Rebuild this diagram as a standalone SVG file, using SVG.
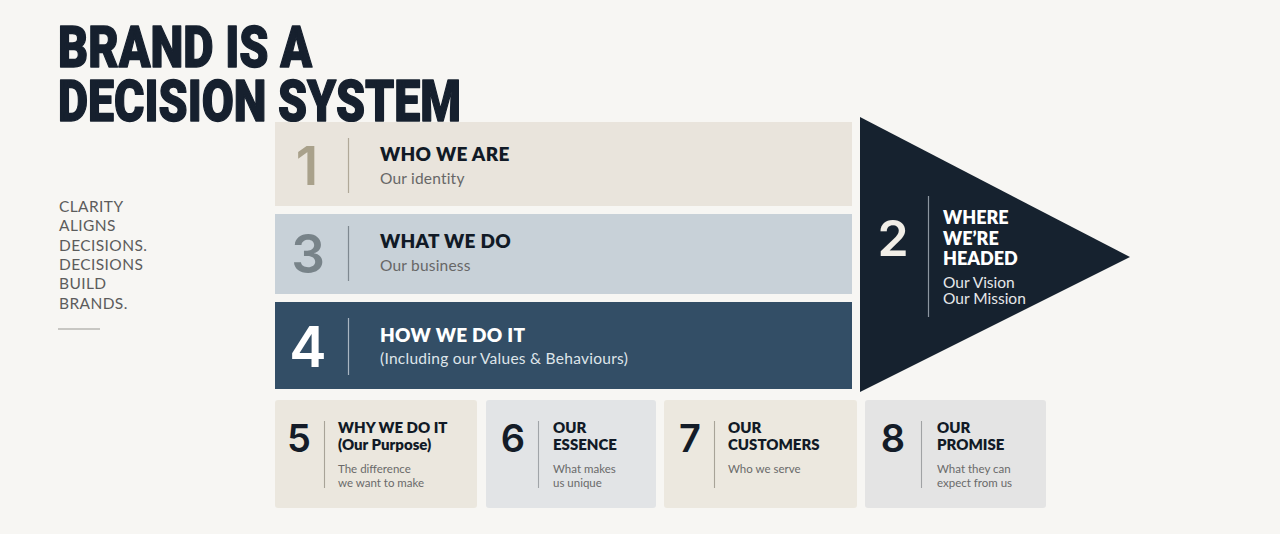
<svg xmlns="http://www.w3.org/2000/svg" width="1280" height="534" viewBox="0 0 1280 534">
<defs>
<style>
.title{font-family:Roboto,"Liberation Sans",sans-serif;font-weight:900;font-size:57px;fill:#16202e;stroke:#16202e;stroke-width:1.4px;stroke-linejoin:round}
.side{font-family:Lato,"Noto Sans",sans-serif;font-weight:400;font-size:15.5px;fill:#5c5c5c;letter-spacing:0.4px}
.num{font-family:Inter,"Noto Sans",sans-serif;font-weight:600}
.h{font-family:Lato,"Noto Sans",sans-serif;font-weight:800;font-size:19px;fill:#111a26;letter-spacing:0.3px}
.th{font-family:Lato,"Noto Sans",sans-serif;font-weight:800;font-size:18px;fill:#ffffff}
.s{font-family:Lato,"Noto Sans",sans-serif;font-size:15.5px;fill:#676767;letter-spacing:0.2px}
.ch{font-family:Lato,"Noto Sans",sans-serif;font-weight:800;font-size:15px;fill:#111a26}
.cs{font-family:Lato,"Noto Sans",sans-serif;font-size:11.5px;fill:#6a6a6a}
.cn{font-family:Inter,"Noto Sans",sans-serif;font-weight:600;font-size:38px;fill:#141c28}
</style>
</defs>
<rect width="1280" height="534" fill="#f7f6f3"/>

<g id="title">
<text class="title" x="58" y="67" textLength="254" lengthAdjust="spacingAndGlyphs">BRAND IS A</text>
<text class="title" x="58" y="121" textLength="403" lengthAdjust="spacingAndGlyphs">DECISION SYSTEM</text>
</g>

<g id="tagline">
<text class="side" x="59" y="212">CLARITY</text>
<text class="side" x="59" y="231">ALIGNS</text>
<text class="side" x="59" y="251">DECISIONS.</text>
<text class="side" x="59" y="270">DECISIONS</text>
<text class="side" x="59" y="289">BUILD</text>
<text class="side" x="59" y="309">BRANDS.</text>
<line x1="58" y1="329" x2="100" y2="329" stroke="#9a9894" stroke-width="1.2"/>
</g>

<g id="connectors"></g>

<g id="node1">
<rect x="275" y="122" width="577" height="84" fill="#e9e4dc"/>
<text class="num" x="307" y="185" font-size="53" fill="#a9a18b" text-anchor="middle">1</text>
<line x1="348.500" y1="138" x2="348.500" y2="193" stroke="#b0a898" stroke-width="1.2"/>
<text class="h" x="380" y="161">WHO WE ARE</text>
<text class="s" x="380" y="184">Our identity</text>
</g>

<g id="node3">
<rect x="275" y="214" width="577" height="80" fill="#c8d1d8"/>
<text class="num" x="308" y="273" font-size="53" fill="#788389" text-anchor="middle">3</text>
<line x1="348.500" y1="226" x2="348.500" y2="281" stroke="#7e8890" stroke-width="1.2"/>
<text class="h" x="380" y="248">WHAT WE DO</text>
<text class="s" x="380" y="271">Our business</text>
</g>

<g id="node4">
<rect x="275" y="302" width="577" height="87" fill="#334e66"/>
<text class="num" x="308" y="367" font-size="56" fill="#ffffff" text-anchor="middle">4</text>
<line x1="348.500" y1="318" x2="348.500" y2="375" stroke="#a9b6c2" stroke-width="1.2"/>
<text class="h" x="380" y="342" style="fill:#ffffff">HOW WE DO IT</text>
<text class="s" x="380" y="364" textLength="248" style="fill:#dfe5ea">(Including our Values &amp; Behaviours)</text>
</g>

<g id="node2">
<polygon points="860,117 1130,257 860,392" fill="#16222f"/>
<text class="num" x="893" y="256" font-size="50" fill="#f1eee7" text-anchor="middle">2</text>
<line x1="928.500" y1="196" x2="928.500" y2="317" stroke="#8c96a0" stroke-width="1.2"/>
<text class="th" x="943" y="224">WHERE</text>
<text class="th" x="943" y="245">WE’RE</text>
<text class="th" x="943" y="265">HEADED</text>
<text class="s" x="943" y="288" font-size="14" style="fill:#e6e8ea;letter-spacing:0">Our Vision</text>
<text class="s" x="943" y="304" font-size="14" style="fill:#e6e8ea;letter-spacing:0">Our Mission</text>
</g>

<g id="node5">
<rect x="275" y="400" width="202" height="108" rx="3" fill="#ebe7de"/>
<text class="cn" x="299" y="452" text-anchor="middle">5</text>
<line x1="324.500" y1="421" x2="324.500" y2="488" stroke="#a8a398" stroke-width="1.1"/>
<text class="ch" x="338" y="433">WHY WE DO IT</text>
<text class="ch" x="338" y="450" font-size="13">(Our Purpose)</text>
<text class="cs" x="338" y="473">The difference</text>
<text class="cs" x="338" y="487">we want to make</text>
</g>

<g id="node6">
<rect x="486" y="400" width="170" height="108" rx="3" fill="#e2e4e6"/>
<text class="cn" x="513" y="452" text-anchor="middle">6</text>
<line x1="538.500" y1="421" x2="538.500" y2="488" stroke="#a0a4a8" stroke-width="1.1"/>
<text class="ch" x="553" y="433">OUR</text>
<text class="ch" x="553" y="450">ESSENCE</text>
<text class="cs" x="553" y="473">What makes</text>
<text class="cs" x="553" y="487">us unique</text>
</g>

<g id="node7">
<rect x="664" y="400" width="193" height="108" rx="3" fill="#ece8df"/>
<text class="cn" x="690" y="452" text-anchor="middle">7</text>
<line x1="714.500" y1="421" x2="714.500" y2="488" stroke="#a8a398" stroke-width="1.1"/>
<text class="ch" x="728" y="433">OUR</text>
<text class="ch" x="728" y="450">CUSTOMERS</text>
<text class="cs" x="728" y="473">Who we serve</text>
</g>

<g id="node8">
<rect x="865" y="400" width="181" height="108" rx="3" fill="#e4e4e4"/>
<text class="cn" x="893" y="452" text-anchor="middle">8</text>
<line x1="921.500" y1="421" x2="921.500" y2="488" stroke="#a0a2a4" stroke-width="1.1"/>
<text class="ch" x="937" y="433">OUR</text>
<text class="ch" x="937" y="450">PROMISE</text>
<text class="cs" x="937" y="473">What they can</text>
<text class="cs" x="937" y="487">expect from us</text>
</g>
</svg>
